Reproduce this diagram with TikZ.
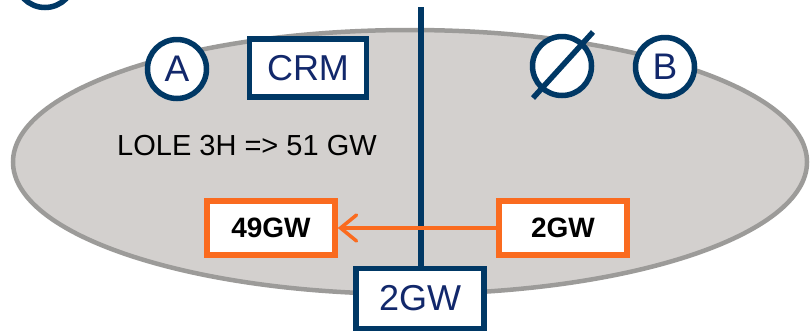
\documentclass[tikz,border=0pt]{standalone}
\usepackage{fontspec}
\setmainfont{Liberation Sans}
\setsansfont{Liberation Sans}
\usepackage{tikz}
\usetikzlibrary{arrows.meta}
\definecolor{NavyLine}{HTML}{003865}
\definecolor{NavyText}{HTML}{12286B}
\definecolor{FlowOrange}{HTML}{FA6B1F}
\definecolor{ZoneGray}{HTML}{D3D0CE}
\definecolor{ZoneEdge}{HTML}{9C9B99}

\begin{document}
\begin{tikzpicture}[x=1pt, y=1pt, every node/.style={font=\sffamily}]
  \tikzstyle{marker}=[circle, draw=NavyLine, line width=5.5pt, fill=white, inner sep=0pt,
  minimum size=59pt, text=NavyText, font=\sffamily\fontsize{37}{37}\selectfont]
  \tikzstyle{market}=[rectangle, draw=NavyLine, line width=5.5pt, fill=white, inner sep=0pt,
  text=NavyText, font=\sffamily\fontsize{36}{36}\selectfont]
  \tikzstyle{volume}=[rectangle, draw=FlowOrange, line width=5.5pt, fill=white, inner sep=0pt,
  minimum width=128pt, minimum height=54pt, font=\sffamily\bfseries\fontsize{28}{28}\selectfont]
  \useasboundingbox (0,0) rectangle (810,-333);
  \draw[ZoneEdge, line width=4.5pt, fill=ZoneGray] (410,-162) ellipse [x radius=397, y radius=132];
  \node[marker] (corner) at (45,22) {};
  \node[marker] (zoneA) at (177,-69) {A};
  \node[market, minimum width=117pt, minimum height=58pt] (crm) at (308,-68) {CRM};
  \node[marker] (zoneB) at (665,-67) {B};
  \node[marker] (empty) at (562,-66) {};
  \draw[NavyLine, line width=5.5pt] ([shift={(-29,-32)}]empty.center) -- ([shift={(31,34)}]empty.center);
  \node[font=\fontsize{29}{29}\selectfont] (lole) at (247,-146) {LOLE 3H => 51 GW};
  \node[market, minimum width=128pt, minimum height=60pt] (link) at (420,-298.5) {2GW};
  \coordinate (border) at (421,-7);
  \draw[NavyLine, line width=6pt] (border) -- (border |- link.north);
  \node[volume] (need) at (271,-228) {49GW};
  \node[volume] (import) at (563,-228) {2GW};
  \draw[-{Straight Barb[length=16pt, width=26pt, line cap=round]}, line width=3.5pt, FlowOrange] (import) -- (need);
\end{tikzpicture}
\end{document}
